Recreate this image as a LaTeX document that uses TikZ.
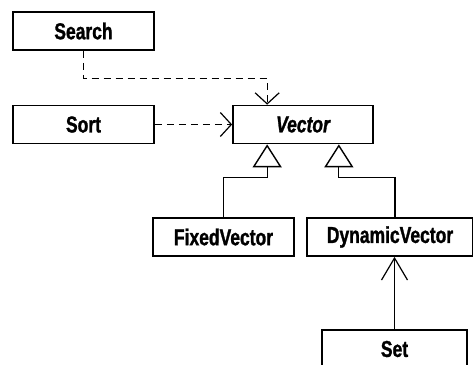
\documentclass[tikz,border=0pt]{standalone}
\usepackage{fontspec}
\newfontfamily\classfont{Liberation Sans}[FakeStretch=0.76, BoldFeatures={FakeBold=1.2}, BoldItalicFeatures={FakeBold=1.2}]
\usepackage{tikz}
\usetikzlibrary{arrows.meta}
\usetikzlibrary{positioning}
\tikzstyle{class_box} = [
    rectangle, 
    draw=black, 
    fill=white, 
    line width=1.7pt, 
    font=\classfont\bfseries\fontsize{23}{25}\selectfont, 
    align=center, 
    inner sep=0pt, % size is set by the minimums
    minimum width=141pt, 
    minimum height=38pt
]
\tikzstyle{uses} = [
    line width=1.2pt, 
    dash pattern=on 7pt off 5pt, 
    -{Straight Barb[length=11pt, width=24pt, line width=1.2pt]}
]
\tikzstyle{extends} = [
    line width=1.2pt, 
    -{Triangle[open, length=23pt, width=29pt, fill=white, line width=1.4pt]}
]
\tikzstyle{holds} = [
    line width=1.2pt, 
    -{Straight Barb[length=22pt, width=26pt, line width=1.2pt]}
]
\begin{document}
\begin{tikzpicture}[x=1pt, y=-1pt]
\useasboundingbox (0,0) rectangle (473,364);

\node [class_box] (search) at (83.5,31) {Search};
\node [class_box] (sort) at (83.5,124.5) {Sort};
\node [class_box, minimum width=140pt, font=\classfont\bfseries\itshape\fontsize{23}{25}\selectfont] (vector) at (303,124.5) {Vector};
\node [class_box] (fixed) at (223.5,237) {FixedVector};
\node [class_box, minimum width=166pt] (dynamic) at (390,237) {DynamicVector};
\node [class_box, minimum width=145pt] (set) at (394.5,349) {Set};

% dependencies
\draw [uses] (search.south) -- ++(0,28) -| ([xshift=35]vector.north west);
\draw [uses] (sort.east) -- (vector.west);

% generalisation
\draw [extends] (fixed.north) -- ++(0,-40) -| ([xshift=35]vector.south west);
\draw [extends] ([xshift=5]dynamic.north) -- ++(0,-40) -| ([xshift=-35]vector.south east);

\draw [holds] (set.north) -- (set.north |- dynamic.south);
\end{tikzpicture}
\end{document}
